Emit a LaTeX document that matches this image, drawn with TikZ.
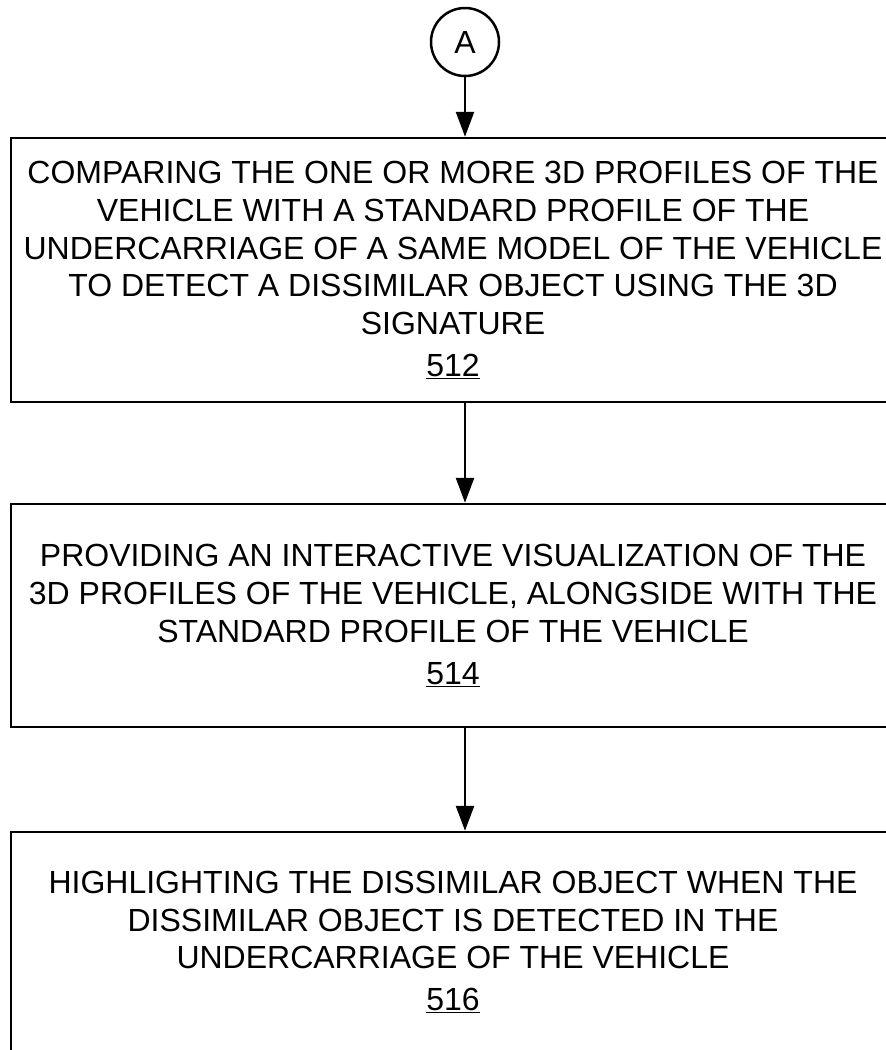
\documentclass[tikz,border=0pt]{standalone}
\usepackage{fontspec}
\setmainfont{Liberation Sans}
\usetikzlibrary{arrows.meta}
\begin{document}
\begin{tikzpicture}[x=1pt,y=-1pt,
  stepbox/.style={draw, line width=2.5pt, minimum width=884pt, align=center, inner sep=0pt,
    font=\fontsize{32}{37.7}\selectfont},
  conn/.style={draw, circle, line width=2.5pt, minimum size=68pt, inner sep=0pt,
    font=\fontsize{32}{37.7}\selectfont},
  flow/.style={line width=2.5pt, -{Triangle[length=25pt,width=18pt]}}]
\useasboundingbox (0,0) rectangle (886,1050);
\clip (0,0) rectangle (886,1050);
\node[conn] (A) at (465,42) {A};
\node[stepbox, minimum height=264pt] (b1) at (453,270) {COMPARING THE ONE OR MORE 3D PROFILES OF THE\\VEHICLE WITH A STANDARD PROFILE OF THE\\UNDERCARRIAGE OF A SAME MODEL OF THE VEHICLE\\TO DETECT A DISSIMILAR OBJECT USING THE 3D\\SIGNATURE\\[4pt]\underline{512}};
\node[stepbox, minimum height=223pt] (b2) at (453,615.5) {PROVIDING AN INTERACTIVE VISUALIZATION OF THE\\3D PROFILES OF THE VEHICLE, ALONGSIDE WITH THE\\STANDARD PROFILE OF THE VEHICLE\\[4pt]\underline{514}};
\node[stepbox, minimum height=220pt] (b3) at (453,942) {HIGHLIGHTING THE DISSIMILAR OBJECT WHEN THE\\DISSIMILAR OBJECT IS DETECTED IN THE\\UNDERCARRIAGE OF THE VEHICLE\\[4pt]\underline{516}};
\draw[flow] (A.south) -- (A.south |- b1.north);
\draw[flow] (A.south |- b1.south) -- (A.south |- b2.north);
\draw[flow] (A.south |- b2.south) -- (A.south |- b3.north);
\end{tikzpicture}
\end{document}
